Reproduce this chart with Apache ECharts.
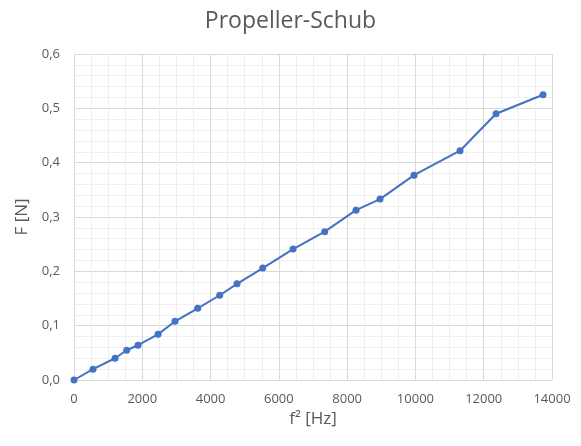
<!DOCTYPE html>
<html><head><meta charset="utf-8">
<script src="https://cdn.jsdelivr.net/npm/echarts@6/dist/echarts.min.js"></script>
<style>html,body{margin:0;padding:0;background:#fff}#c{width:581px;height:446px}</style>
</head><body><div id="c"></div>
<script>
const titleText = 'Propeller-Schub';
const xName = 'f² [Hz]';
const yName = 'F [N]';
const fSquared = [0, 557, 1201, 1544, 1875, 2461, 2959, 3623, 4268, 4775, 5527, 6416, 7343, 8260, 8963, 9959, 11306, 12361, 13738];
const force = [0, 0.020, 0.040, 0.0547, 0.064, 0.084, 0.108, 0.132, 0.156, 0.177, 0.206, 0.241, 0.273, 0.3126, 0.333, 0.377, 0.422, 0.490, 0.525];
const points = fSquared.map((x, i) => [x, force[i]]);

const font = '"Open Sans", "Noto Sans", sans-serif';
const chart = echarts.init(document.getElementById('c'), null, {renderer: 'canvas'});
chart.setOption({
  animation: false,
  backgroundColor: '#ffffff',
  title: {
    text: titleText, left: 'center', top: 5,
    textStyle: {fontFamily: font, fontSize: 23, fontWeight: 'normal', color: '#595959'}
  },
  grid: {left: 74, right: 29, top: 54, bottom: 66},
  xAxis: {
    type: 'value', min: 0, max: 14000, interval: 2000,
    name: xName, nameLocation: 'middle', nameGap: 30,
    nameTextStyle: {fontFamily: font, fontSize: 17, color: '#595959'},
    axisLine: {show: true, lineStyle: {color: '#d9d9d9', width: 1}},
    axisTick: {show: false},
    axisLabel: {fontFamily: font, fontSize: 13, color: '#595959', margin: 13,
      formatter: v => String(v)},
    splitLine: {show: true, lineStyle: {color: '#d9d9d9', width: 1}},
    minorTick: {show: false, splitNumber: 4},
    minorSplitLine: {show: true, lineStyle: {color: '#efefef', width: 1}}
  },
  yAxis: {
    type: 'value', min: 0, max: 0.6, interval: 0.1,
    name: yName, nameLocation: 'middle', nameGap: 35, nameRotate: 90,
    nameTextStyle: {fontFamily: font, fontSize: 17, color: '#595959'},
    axisLine: {show: true, lineStyle: {color: '#d9d9d9', width: 1}},
    axisTick: {show: false},
    axisLabel: {fontFamily: font, fontSize: 13, color: '#595959', margin: 14,
      formatter: v => v.toFixed(1).replace('.', ',')},
    splitLine: {show: true, lineStyle: {color: '#d9d9d9', width: 1}},
    minorTick: {show: false, splitNumber: 5},
    minorSplitLine: {show: true, lineStyle: {color: '#efefef', width: 1}}
  },
  series: [{
    type: 'line', data: points,
    lineStyle: {color: '#4472C4', width: 2},
    itemStyle: {color: '#4472C4'},
    symbol: 'circle', symbolSize: 7, showSymbol: true
  }]
});
</script></body></html>
